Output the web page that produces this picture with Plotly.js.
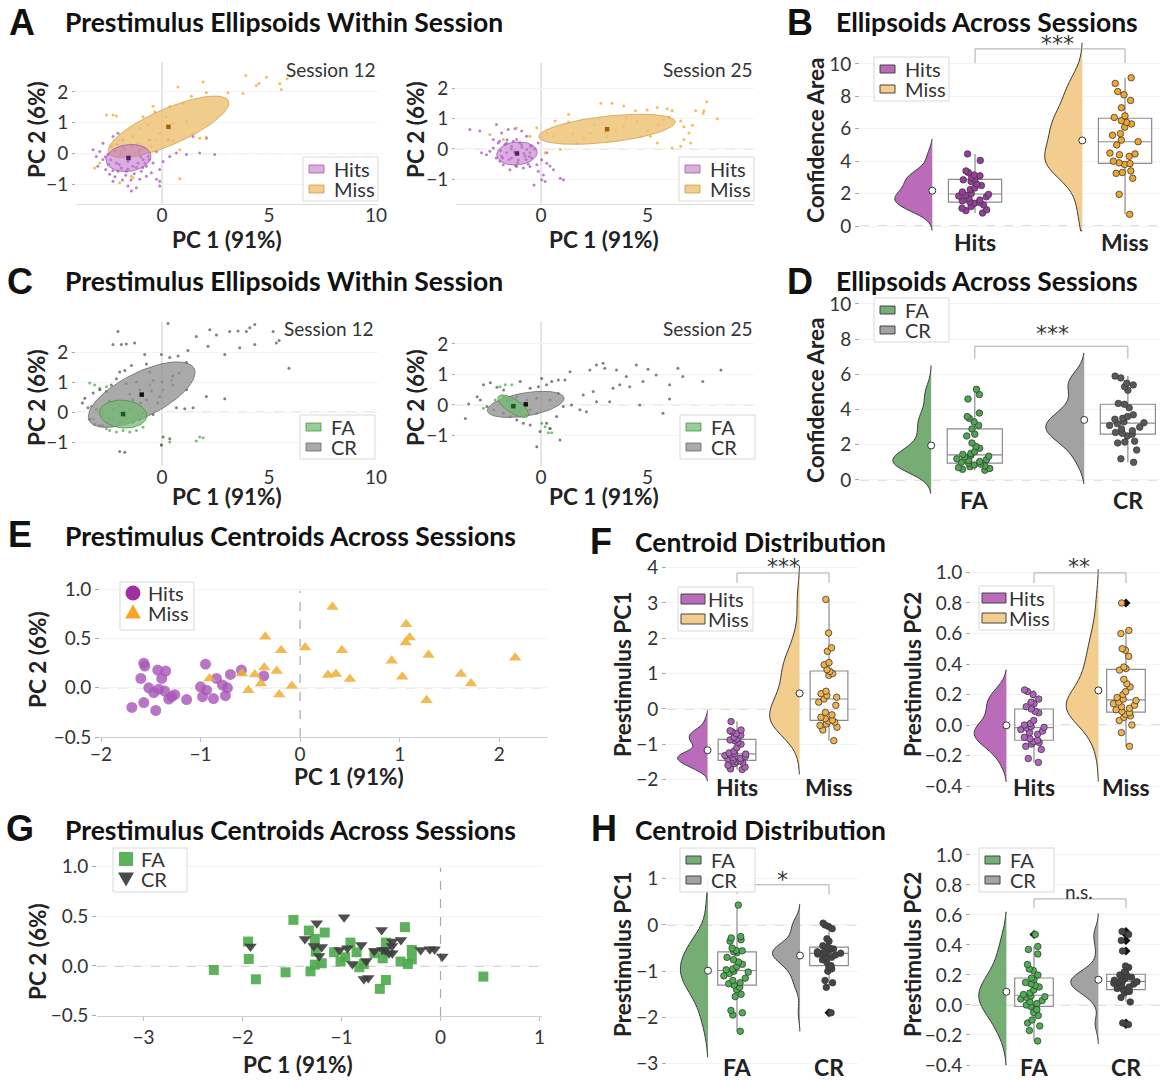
<!DOCTYPE html>
<html>
<head>
<meta charset="utf-8">
<script src="https://cdn.plot.ly/plotly-3.0.1.min.js"></script>
<style>html,body{margin:0;padding:0;background:#fff;}#chart{width:1160px;height:1080px;}</style>
</head>
<body>
<div id="chart"></div>
<script>
// ================= DATA =================
// Panel A (session 12 / 25): trial scatter in PC space
const a12HitsX = [-3.22,-3.07,-2.91,-2.76,-3.0,-2.63,-2.45,-2.29,-2.06,-1.82,-1.59,-1.43,-1.2,-1.04,-0.73,-0.5,-0.26,-0.11,-0.42,0.05,0.36,0.67,1.14,1.76,2.46,1.45,2.07,0.28,-0.26,-0.65,-2.37,-2.52,-2.13,-1.9,-1.67,-1.36,-1.12,-0.89,-2.21,-1.98,-1.75,-1.51,-1.28,-1.04,-1.59,-2.06,-0.97,-0.73,-2.76,-0.58,-0.11,-2.29,-0.11,-2.4,-2.2,-2.0,-1.8,-1.6,-1.4,-1.2,-1.0,-0.8,-2.3,-2.1,-1.9,-1.7,-1.5,-1.3,-1.1,-0.9,-2.5,-2.2,-1.85,-1.45,-1.15,-0.85,-2.65,-0.6];
const a12HitsY = [0.13,-0.09,0.07,-0.19,-0.41,-0.51,-0.67,0.56,0.66,0.45,-1.05,-1.21,-1.1,-0.83,-0.73,-0.62,-0.83,-0.89,-0.3,-0.25,-0.09,0.02,-0.03,0.02,-0.03,0.56,0.5,0.45,0.07,-0.09,0.24,-0.03,-0.3,-0.46,-0.57,-0.41,-0.3,-0.19,0.07,-0.03,0.13,-0.09,0.02,0.13,-0.25,-0.57,-0.57,-0.41,0.34,0.45,-1.05,-0.89,-0.51,-0.2,0.1,-0.35,0.2,-0.5,0.25,-0.45,-0.1,-0.3,-0.55,0.3,0.05,-0.7,0.0,-0.65,0.05,-0.45,-0.35,-0.75,-0.85,-0.85,0.3,0.2,-0.1,-0.2];
const a12MissX = [3.91,4.88,5.84,5.5,5.57,4.4,4.53,3.78,3.08,1.92,0.75,2.07,1.37,-0.42,-0.34,-2.6,-2.29,-2.13,-1.04,-1.36,-0.65,0.2,0.51,1.14,1.76,2.07,-0.11,-0.26,0.83,0.51,-1.36,-1.98,-3.15,-2.91,-1.43,-1.36,0.83,-1.98,-0.89,1.45,-0.5,0.36,0.98];
const a12MissY = [2.53,2.48,2.43,2.27,2.08,2.21,2.27,1.95,1.97,2.32,2.16,1.97,1.86,1.54,1.36,1.25,1.25,1.22,0.82,0.56,0.93,1.2,0.98,1.04,0.5,0.53,0.66,0.45,0.13,0.4,0.13,0.45,-0.46,-0.3,-0.73,-0.78,-0.81,-0.94,1.2,0.66,0.24,1.52,1.63];
const a25HitsX = [-3.34,-2.87,-2.79,-2.56,-2.4,-2.24,-2.09,-1.85,-1.54,-1.22,-0.91,-0.68,-2.01,-1.77,-1.46,-1.15,-0.83,-0.52,-0.2,0.03,0.27,0.42,0.58,0.11,-0.33,0.03,0.19,0.9,1.05,-0.13,-0.44,-1.62,-1.38,-1.15,-0.91,-0.68,-0.44,-1.62,-1.38,-1.07,-0.75,-0.52,-1.85,-1.93,-2.24,-0.13,0.27,-1.9,-1.7,-1.5,-1.3,-1.1,-0.9,-0.7,-0.5,-1.8,-1.6,-1.4,-1.2,-1.0,-0.8,-0.6,-1.95,-1.25,-0.55,-2.1,-0.3];
const a25HitsY = [0.64,0.59,-0.13,-0.19,-0.08,0.31,0.81,0.53,0.64,0.67,0.59,0.42,0.2,-0.52,-0.69,-0.58,-0.63,-0.58,-0.52,-0.36,-0.13,-0.56,-0.69,-0.86,-1.19,-1.02,-1.08,-0.97,-1.02,-0.74,-0.3,0.2,0.09,0.31,0.14,-0.02,0.09,-0.13,-0.3,-0.36,-0.24,-0.13,-0.24,-0.41,0.03,0.2,-0.47,-0.05,0.15,-0.35,0.25,-0.45,0.05,-0.35,0.1,-0.3,0.3,0.0,-0.55,0.2,-0.15,-0.5,0.25,-0.1,-0.25,-0.3,0.0];
const a25MissX = [2.81,3.33,3.88,4.43,4.98,5.45,5.92,6.15,6.55,6.7,6.94,7.1,7.25,7.61,7.77,8.27,7.64,6.7,7.02,6.55,6.15,5.45,5.13,1.29,1.29,0.66,0.27,0.58,0.9,1.68,2.31,3.88,3.09,4.66,5.76,-0.52,-2.4,-1.77,-1.15,-0.2,0.19,1.5,2.5,3.5,4.5,5.5,2.0,3.0,4.0,5.0,6.0];
const a25MissY = [1.51,1.51,1.42,1.26,1.29,1.37,1.33,1.26,0.92,0.73,0.53,0.78,1.26,1.18,1.56,1.0,1.26,0.31,0.2,0.09,0.03,0.2,0.42,1.14,0.89,0.92,0.53,0.42,-0.02,0.2,0.53,0.76,0.42,0.42,0.98,0.42,0.48,0.31,0.7,0.7,-0.13,0.5,0.8,0.6,0.9,0.8,0.35,0.55,1.0,0.6,1.05];
// Panel C
const c12FaX = [-3.38,-3.15,-2.91,-2.6,-3.3,-3.07,-3.22,-2.45,-2.13,-1.82,-1.51,-1.2,-0.89,-2.6,-2.76,-2.21,-1.98,-1.51,-1.12,-1.67,-2.29,-1.36,-0.89,-0.58,0.05,0.44,1.76,1.92,1.6,-0.03,0.36];
const c12FaY = [0.97,0.9,0.79,0.84,0.19,0.09,-0.24,-0.62,-0.67,-0.62,-0.67,-0.62,-0.51,-0.56,-0.45,0.09,-0.02,0.09,-0.08,-0.18,-0.24,-0.35,-0.02,0.9,0.74,1.06,-0.83,-0.86,-0.97,-1.1,-1.0];
const c12CrX = [0.28,-2.06,-2.29,-1.9,-1.67,-1.28,1.6,2.23,2.54,3.16,3.55,3.94,4.33,4.1,5.19,5.34,5.47,4.33,5.93,3.63,2.93,2.15,1.21,0.75,-0.03,0.36,1.14,-0.81,-0.73,-1.43,-1.74,-2.13,-2.37,-2.6,-2.91,-3.22,-3.61,-3.72,-3.46,-3.38,-3.15,-2.91,-1.98,-1.04,-0.42,0.67,1.06,1.45,2.93,2.07,1.14,0.51,-0.42,-1.04,-1.67,-1.36,-0.73,-0.11,-1.98,-1.74,0.05,0.36,-0.03,-2.29,-2.76,-2.45,-0.58,-1.98,-2.0,-1.5,-1.0,-0.5,0.0,0.5,-1.2,-2.5,-0.2,0.8];
const c12CrY = [2.95,2.68,2.25,2.25,2.27,2.3,2.52,2.74,2.57,2.68,2.7,2.68,2.92,2.81,2.68,2.3,2.38,2.25,1.46,2.14,1.92,2.19,2.05,1.87,1.92,1.82,1.65,1.92,1.6,1.55,1.38,1.11,0.9,0.68,0.74,0.63,0.46,0.3,0.14,-0.24,-0.4,-0.45,-0.35,-0.24,-0.08,0.14,0.11,0.14,0.44,0.52,0.74,0.9,1.06,0.74,0.95,0.41,0.41,0.52,-1.32,-1.34,-0.83,-0.89,-1.1,0.09,-0.08,0.36,1.33,1.33,0.2,0.6,0.3,0.7,1.0,1.2,1.0,-0.2,0.3,1.3];
const c25FaX = [-1.92,-1.68,-1.37,-2.7,-2.15,-1.6,-1.29,-0.98,-0.67,-0.2,0.03,0.19,0.34,0.5,0.42,-1.76,-1.45,-0.9];
const c25FaY = [0.6,0.66,0.66,-0.11,0.16,0.05,-0.05,-0.22,-0.33,-0.27,-0.6,-0.71,-0.91,-0.91,-0.77,0.27,0.16,-0.11];
const c25CrX = [2.6,2.91,2.99,2.29,1.36,1.12,0.81,0.5,0.26,0.03,3.54,4.0,4.47,5.02,5.4,6.42,6.65,8.44,7.59,6.03,4.78,4.16,3.69,3.38,2.45,1.98,2.6,3.22,4.63,6.03,5.72,1.82,1.43,2.13,1.04,0.73,0.26,-0.2,0.89,0.42,-0.05,-0.51,-0.83,-1.14,-1.45,-1.76,-2.23,-2.54,-2.85,-3.0,-3.4,-3.55,-2.7,-2.38,-2.07,-1.76,-0.98,-0.51,-0.12,-1.6,-1.14,-0.67,-0.2,-0.51,-1.45,0.42,0.81];
const c25CrY = [1.31,1.37,1.2,1.15,1.09,0.82,0.82,0.77,0.66,0.87,1.15,0.93,1.31,1.17,0.98,1.2,0.93,1.15,0.77,0.66,0.77,0.6,0.66,0.55,0.44,0.33,0.11,0.11,0.0,0.2,-0.27,-0.16,0.0,-0.22,-0.05,-0.38,-0.6,-1.37,-1.15,-0.77,-0.87,-0.66,-0.6,-0.49,-0.38,-0.27,-0.16,-0.05,0.16,0.27,0.03,-0.44,0.66,0.73,0.58,0.49,0.77,0.55,0.6,0.16,0.27,0.16,0.22,-0.16,-0.05,0.16,0.38];
// Confidence ellipses: [centerX, centerY, majorX, majorY, minorX, minorY]
const ellA12Hits = [-1.57,-0.14,1.05,0.06,0.0,0.435];
const ellA12Miss = [0.3,0.87,2.8,0.84,-0.33,0.54];
const ellA25Hits = [-1.13,-0.15,0.95,0.04,0.0,0.38];
const ellA25Miss = [3.1,0.65,3.2,0.25,-0.07,0.43];
const ellC12Fa = [-1.82,-0.07,1.1,-0.08,0.08,0.46];
const ellC12Cr = [-0.95,0.58,2.45,0.87,-0.46,0.66];
const ellC25Fa = [-1.3,-0.04,0.7,-0.32,0.18,0.19];
const ellC25Cr = [-0.72,0.02,1.8,0.2,-0.03,0.38];
// Panels B / D: confidence areas across sessions
const areaHits = [0.8,0.95,1.0,1.1,1.2,1.3,1.4,1.45,1.5,1.55,1.6,1.7,1.8,1.85,1.9,1.95,2.0,2.1,2.25,2.35,2.5,2.6,2.75,2.85,2.9,3.0,3.1,3.15,3.3,3.4,4.05,4.45];
const areaMiss = [0.72,1.95,2.95,3.25,3.3,3.4,3.8,3.85,3.9,4.0,4.3,4.4,4.45,4.5,5.0,5.2,5.3,5.6,5.7,6.1,6.3,6.4,6.5,6.7,6.8,7.3,7.75,8.1,8.3,8.8,9.15];
const areaFa = [0.55,0.6,0.65,0.7,0.75,0.8,0.85,0.9,0.95,1.0,1.05,1.1,1.15,1.2,1.3,1.35,1.4,1.45,1.5,1.6,1.8,1.9,2.1,2.5,2.6,2.9,3.1,3.3,3.5,3.6,3.8,4.6,4.85,5.15];
const areaCr = [1.0,1.2,1.7,2.1,2.15,2.2,2.5,2.6,2.65,2.7,2.8,2.9,3.0,3.1,3.2,3.25,3.3,3.45,3.5,3.6,3.7,4.1,4.3,4.35,5.1,5.3,5.4,5.5,5.8,5.9];
// Panels E / G: session centroids
const centHitsX = [-1.69,-1.57,-1.6,-1.57,-1.56,-1.52,-1.47,-1.45,-1.43,-1.42,-1.39,-1.36,-1.35,-1.32,-1.29,-1.26,-1.14,-1.0,-0.98,-0.95,-0.94,-0.87,-0.84,-0.78,-0.75,-0.73,-0.7,-0.59,-0.365];
const centHitsY = [-0.2,-0.15,0.095,0.25,0.22,0.0,-0.05,-0.23,0.18,-0.014,0.095,-0.034,0.17,-0.115,-0.09,-0.07,-0.12,0.01,-0.09,0.24,-0.024,-0.11,0.095,0.027,-0.08,0.0,0.136,0.18,0.12];
const centMissX = [0.325,1.066,1.1,1.06,-0.35,-0.19,0.05,0.42,0.92,1.29,2.16,-0.36,-0.235,-0.585,-0.455,-0.91,-0.394,-0.52,-0.21,-0.083,0.28,0.36,0.5,1.026,1.27,1.615,1.716];
const centMissY = [0.82,0.646,0.51,0.46,0.517,0.38,0.41,0.38,0.275,0.333,0.306,0.207,0.17,0.146,0.136,0.095,0.044,-0.024,-0.068,0.017,0.13,0.14,0.088,0.112,-0.126,0.14,0.044];
const centFaX = [-2.29,-1.944,-1.937,-1.865,-1.565,-1.486,-1.33,-1.27,-1.17,-1.26,-1.313,-1.27,-1.2,-1.075,-1.01,-0.963,-0.91,-0.848,-0.82,-0.775,-0.667,-0.613,-0.584,-0.552,-0.552,-0.404,-0.36,-0.33,-0.29,-0.29,0.433];
const centFaY = [-0.04,0.245,0.07,-0.134,-0.064,0.463,0.356,0.272,0.336,0.144,-0.054,0.013,0.027,0.138,0.044,0.087,0.235,0.138,-0.013,0.02,0.128,-0.23,0.077,0.235,-0.141,0.044,0.39,0.02,0.067,0.161,-0.107];
const centCrX = [-1.37,-1.25,-1.28,-1.226,-1.2,-1.92,-0.974,-1.02,-0.94,-0.89,-0.8,-0.775,-0.73,-0.75,-0.67,-0.595,-0.588,-0.56,-0.52,-0.487,-0.487,-0.49,-0.4,-0.2,-0.108,-0.06,0.018];
const centCrY = [0.272,0.43,0.2,0.1,0.19,0.195,0.49,0.16,0.178,0.02,0.21,-0.13,-0.12,0.05,0.15,0.362,0.16,0.16,0.128,0.245,0.128,0.2,0.26,0.16,0.168,0.168,0.094];
// Panels F / H: centroid distributions
const pc1Hits = [-0.36,-0.6,-0.62,-0.65,-0.7,-0.75,-0.8,-0.85,-0.88,-0.9,-0.95,-1.0,-1.1,-1.2,-1.25,-1.27,-1.28,-1.3,-1.32,-1.35,-1.38,-1.4,-1.42,-1.45,-1.47,-1.5,-1.52,-1.55,-1.6,-1.65,-1.7,-1.72];
const pc1Miss = [3.1,2.15,1.73,1.63,1.31,1.25,1.11,1.06,1.0,0.95,0.5,0.43,0.38,0.33,0.28,0.19,0.1,-0.1,-0.17,-0.24,-0.28,-0.32,-0.35,-0.38,-0.43,-0.47,-0.52,-0.6,-0.9];
const pc2Hits = [0.23,0.22,0.2,0.17,0.15,0.14,0.12,0.105,0.09,0.08,0.03,0.01,0.0,-0.01,-0.015,-0.02,-0.03,-0.04,-0.05,-0.06,-0.08,-0.09,-0.1,-0.11,-0.115,-0.125,-0.14,-0.16,-0.22,-0.245];
const pc2Miss = [-0.14,-0.05,0.0,0.03,0.05,0.06,0.07,0.08,0.09,0.1,0.11,0.12,0.13,0.14,0.15,0.16,0.17,0.18,0.2,0.22,0.25,0.27,0.3,0.36,0.37,0.38,0.45,0.49,0.5,0.6,0.62,0.8];
const pc1Fa = [0.43,-0.25,-0.28,-0.32,-0.35,-0.5,-0.55,-0.56,-0.58,-0.6,-0.7,-0.75,-0.8,-0.85,-0.9,-0.95,-0.97,-1.0,-1.02,-1.05,-1.1,-1.15,-1.2,-1.25,-1.27,-1.3,-1.35,-1.4,-1.5,-1.55,-1.85,-1.9,-1.95,-2.3];
const pc1Cr = [0.04,0.0,-0.03,-0.08,-0.3,-0.35,-0.45,-0.48,-0.5,-0.52,-0.55,-0.57,-0.58,-0.6,-0.61,-0.62,-0.63,-0.65,-0.68,-0.7,-0.75,-0.8,-0.88,-0.9,-0.95,-1.0,-1.2,-1.25,-1.35,-1.9];
const pc2Fa = [0.47,0.39,0.37,0.34,0.27,0.24,0.23,0.2,0.18,0.17,0.15,0.14,0.13,0.12,0.1,0.08,0.07,0.06,0.055,0.05,0.04,0.03,0.02,0.01,0.0,-0.01,-0.03,-0.05,-0.07,-0.1,-0.12,-0.14,-0.17,-0.24];
const pc2Cr = [0.49,0.47,0.43,0.36,0.26,0.25,0.22,0.21,0.2,0.195,0.19,0.185,0.18,0.17,0.165,0.16,0.155,0.15,0.145,0.14,0.13,0.12,0.11,0.105,0.1,0.1,0.09,0.08,0.05,0.02,-0.12,-0.13];
// KDE settings [bandwidth, spanLow, spanHigh]
const kdeAreaHits = [0.45,-0.25,5.35], kdeAreaMiss = [0.9,-0.3,11.3];
const kdeAreaFa = [0.55,-0.75,6.5], kdeAreaCr = [0.6,-0.2,7.2];
const kdePc1Hits = [0.13,-2.05,-0.05], kdePc1Miss = [0.42,-1.85,4.05];
const kdePc2Hits = [0.06,-0.37,0.36], kdePc2Miss = [0.1,-0.37,1.02];
const kdePc1Fa = [0.33,-2.86,1.0], kdePc1Cr = [0.18,-2.3,0.45];
const kdePc2Fa = [0.09,-0.4,0.62], kdePc2Cr = [0.05,-0.26,0.61];
const catsHM = ['Hits','Miss'], catsFC = ['FA','CR'];
const sigLabels = ['***','***','***','**','*','n.s.'];

// ================= LAYOUT HELPERS =================
const W = 1160, H = 1080;
const FONT = 'Lato, "Open Sans", sans-serif';
const TICK = 19;
const xd = (a, b) => [a / W, b / W];
const yd = (top, bottom) => [1 - bottom / H, 1 - top / H];
const ax = (p, n) => n === 1 ? p : p + n;
const traces = [];
const layout = {
  width: W, height: H, margin: {l: 0, r: 0, t: 0, b: 0},
  paper_bgcolor: '#fff', plot_bgcolor: '#fff',
  font: {family: FONT, color: '#333', size: TICK},
  hovermode: false, showlegend: false, annotations: [], shapes: []
};
const px = x => x / W, py = y => 1 - y / H;
function setAxes(n, dx, dy, xr, yr, xo, yo) {
  layout[n === 1 ? 'xaxis' : 'xaxis' + n] = Object.assign({domain: dx, range: xr, type: 'linear', anchor: ax('y', n), showgrid: false, zeroline: false, showline: false, ticks: '', tickfont: {size: TICK, color: '#333'}, fixedrange: true}, xo || {});
  layout[n === 1 ? 'yaxis' : 'yaxis' + n] = Object.assign({domain: dy, range: yr, type: 'linear', anchor: ax('x', n), showgrid: true, gridcolor: '#f3f3f3', zeroline: false, showline: false, ticks: 'outside', ticklen: 4, tickcolor: '#aaa', tickfont: {size: TICK, color: '#333'}, fixedrange: true}, yo || {});
}
function txt(text, x, y, o) {
  layout.annotations.push(Object.assign({xref: 'paper', yref: 'paper', x: px(x), y: py(y), text: text, showarrow: false, xanchor: 'center', yanchor: 'middle', font: {family: FONT, size: TICK, color: '#333'}}, o || {}));
}
function hline(n, y, color, dash) {
  layout.shapes.push({type: 'line', xref: ax('x', n) + ' domain', x0: 0, x1: 1, yref: ax('y', n), y0: y, y1: y, line: {color: color, width: 1.2, dash: dash}, layer: 'below'});
}
function vline(n, x, color, dash, top) {
  layout.shapes.push({type: 'line', yref: ax('y', n) + ' domain', y0: 0, y1: top, xref: ax('x', n), x0: x, x1: x, line: {color: color, width: 1.2, dash: dash}, layer: 'below'});
}
// legend drawn as a box with patches/markers and text
function legendFrame(L, T, w, h) {
  layout.shapes.push({type: 'rect', xref: 'paper', yref: 'paper', x0: px(L), x1: px(L + w), y0: py(T + h), y1: py(T), fillcolor: 'rgba(255,255,255,0.92)', line: {color: '#d9d9d9', width: 1}, layer: 'above'});
}
function patchLegend(L, T, items, style) {
  const big = style === 'big';
  legendFrame(L, T, 75, 44);
  items.forEach((it, k) => {
    const yc = T + 12 + k * 20;
    const x0 = big ? L + 3 : L + 6, x1 = big ? L + 27 : L + 21, hh = big ? 5 : 4;
    layout.shapes.push({type: 'rect', xref: 'paper', yref: 'paper', x0: px(x0), x1: px(x1), y0: py(yc + hh), y1: py(yc - hh), fillcolor: it.fill, line: {color: it.edge, width: 1}, layer: 'above'});
    txt(it.name, big ? L + 28 : L + 29, yc, {xanchor: 'left', font: {family: FONT, size: 20, color: '#333'}});
  });
}
function markerLegend(L, T, h, items) {
  legendFrame(L, T, 74, h);
  items.forEach((it, k) => {
    const yc = T + 11 + k * 19.5;
    const base = {xref: 'paper', yref: 'paper', xsizemode: 'pixel', ysizemode: 'pixel', xanchor: px(L + 13), yanchor: py(yc), fillcolor: it.color, line: {width: 0}, layer: 'above'};
    if (it.symbol === 'circle') layout.shapes.push(Object.assign({type: 'circle', x0: -7.5, x1: 7.5, y0: -7.5, y1: 7.5}, base));
    else if (it.symbol === 'square') layout.shapes.push(Object.assign({type: 'rect', x0: -7, x1: 7, y0: -7, y1: 7}, base));
    else if (it.symbol === 'up') layout.shapes.push(Object.assign({type: 'path', path: 'M -8,-6 L 8,-6 L 0,8 Z'}, base));
    else layout.shapes.push(Object.assign({type: 'path', path: 'M -8,6 L 8,6 L 0,-8 Z'}, base));
    txt(it.name, L + 26, yc, {xanchor: 'left', font: {family: FONT, size: 20, color: '#333'}});
  });
}
function ellipsePts(e) {
  const xs = [], ys = [];
  for (let k = 0; k <= 90; k++) {
    const t = 2 * Math.PI * k / 90;
    xs.push(e[0] + e[2] * Math.cos(t) + e[4] * Math.sin(t));
    ys.push(e[1] + e[3] * Math.cos(t) + e[5] * Math.sin(t));
  }
  return {xs, ys};
}
function cloudPanel(n, groups) {
  const xa = ax('x', n), ya = ax('y', n);
  groups.forEach(g => traces.push({type: 'scatter', mode: 'markers', x: g.x, y: g.y, xaxis: xa, yaxis: ya, marker: {size: 3, color: g.dot}, showlegend: false}));
  groups.slice().reverse().forEach(g => {
    const p = ellipsePts(g.ell);
    traces.push({type: 'scatter', mode: 'lines', x: p.xs, y: p.ys, fill: 'toself', fillcolor: g.fill, line: {color: g.edge, width: 1}, name: g.name, xaxis: xa, yaxis: ya});
    traces.push({type: 'scatter', mode: 'markers', x: [g.ell[0]], y: [g.ell[1]], marker: {symbol: 'square', size: 4.5, color: g.center}, showlegend: false, xaxis: xa, yaxis: ya});
  });
}
const mean = a => a.reduce((s, v) => s + v, 0) / a.length;
function rainPanel(n, cats, cfg) {
  const xa = ax('x', n), ya = ax('y', n);
  cats.forEach((c, i) => {
    traces.push({type: 'violin', x0: i + cfg.off, y: c.vals, side: 'negative', width: cfg.vw, scalemode: 'width', bandwidth: c.kde[0], spanmode: 'manual', span: [c.kde[1], c.kde[2]], fillcolor: c.vfill, line: {color: '#3c3c3c', width: 1}, points: false, box: {visible: false}, meanline: {visible: false}, name: c.name, xaxis: xa, yaxis: ya, hoverinfo: 'skip'});
  });
  cats.forEach((c, i) => {
    traces.push({type: 'box', x0: i, y: c.vals, width: cfg.bw, fillcolor: 'rgba(255,255,255,0)', line: {color: '#8c8c8c', width: 1.2}, whiskerwidth: 0, boxpoints: 'outliers', marker: {symbol: 'diamond', color: '#111', size: 7}, showlegend: false, xaxis: xa, yaxis: ya});
    traces.push({type: 'box', x0: i, y: c.vals, width: cfg.bw, fillcolor: 'rgba(0,0,0,0)', line: {color: 'rgba(0,0,0,0)', width: 0}, whiskerwidth: 0, boxpoints: 'all', jitter: cfg.jit, pointpos: 0, marker: {color: c.dot, size: 6.5, line: {color: '#3a3a3a', width: 0.8}}, showlegend: false, xaxis: xa, yaxis: ya});
    traces.push({type: 'scatter', mode: 'markers', x: [i + cfg.off], y: [mean(c.vals)], marker: {color: '#fff', size: 7, line: {color: '#333', width: 1}}, showlegend: false, xaxis: xa, yaxis: ya});
  });
  // category labels under the x axis
  cats.forEach((c, i) => layout.annotations.push({xref: ax('x', n), yref: 'paper', x: i, y: py(cfg.labelY), text: '<b>' + c.name + '</b>', showarrow: false, yanchor: 'middle', font: {family: FONT, size: 23, color: '#222'}}));
}
function bracket(n, yTop, yLow, label, lx, ly) {
  layout.shapes.push({type: 'path', xref: ax('x', n), yref: ax('y', n), path: `M 0,${yLow} L 0,${yTop} L 1,${yTop} L 1,${yLow}`, line: {color: '#aaa', width: 1}});
  const stars = label.indexOf('*') >= 0;
  txt(label, lx, ly, {font: {family: stars ? '"DejaVu Sans", sans-serif' : FONT, size: stars ? 22 : 19, color: '#333'}});
}

// colours
const C = {
  hitsDot: 'rgba(172,82,188,0.75)', missDot: 'rgba(240,172,56,0.8)',
  faDot: 'rgba(80,168,80,0.75)', crDot: 'rgba(85,85,85,0.75)',
  hitsVio: '#BA6BB9', missVio: '#F2CD8D', faVio: '#76AD75', crVio: '#A2A2A2',
  hitsEll: 'rgba(192,118,202,0.58)', hitsEdge: 'rgba(155,80,168,0.75)',
  missEll: 'rgba(238,193,112,0.8)', missEdge: 'rgba(205,150,60,0.7)',
  faEll: 'rgba(112,186,112,0.72)', faEdge: 'rgba(70,140,70,0.75)',
  crEll: 'rgba(146,146,146,0.78)', crEdge: 'rgba(100,100,100,0.75)'
};

// ================= PANELS A & C =================
const scatX = {tickvals: [0, 5, 10], showline: true, linecolor: '#dedede', ticklabelstandoff: -6};
const scatY = {tickvals: [-1, 0, 1, 2], ticklen: 3};
setAxes(1, xd(76, 378), yd(62, 204), [-4.02, 10.09], [-1.63, 2.97], scatX, scatY);
setAxes(2, xd(456, 754), yd(63, 204), [-3.99, 9.99], [-1.82, 2.84], scatX, scatY);
setAxes(4, xd(76, 378), yd(322, 466), [-4.02, 10.09], [-1.8, 3.0], {tickvals: [0, 5, 10], ticklabelstandoff: -2}, scatY);
setAxes(5, xd(456, 754), yd(322, 466), [-3.99, 9.99], [-2.0, 2.72], {tickvals: [0, 5, 10], ticklabelstandoff: -2}, scatY);
[1, 2, 4, 5].forEach(n => { vline(n, 0, '#d4d4d4', 'solid', 1); hline(n, 0, '#d6d6d6', 'dash'); });
const hitsG = (x, y, e) => ({x, y, ell: e, name: 'Hits', dot: C.hitsDot, fill: C.hitsEll, edge: C.hitsEdge, center: '#5e1a6e'});
const missG = (x, y, e) => ({x, y, ell: e, name: 'Miss', dot: C.missDot, fill: C.missEll, edge: C.missEdge, center: '#9a6608'});
const faG = (x, y, e) => ({x, y, ell: e, name: 'FA', dot: C.faDot, fill: C.faEll, edge: C.faEdge, center: '#165e16'});
const crG = (x, y, e) => ({x, y, ell: e, name: 'CR', dot: C.crDot, fill: C.crEll, edge: C.crEdge, center: '#111'});
cloudPanel(1, [hitsG(a12HitsX, a12HitsY, ellA12Hits), missG(a12MissX, a12MissY, ellA12Miss)]);
cloudPanel(2, [hitsG(a25HitsX, a25HitsY, ellA25Hits), missG(a25MissX, a25MissY, ellA25Miss)]);
cloudPanel(4, [faG(c12FaX, c12FaY, ellC12Fa), crG(c12CrX, c12CrY, ellC12Cr)]);
cloudPanel(5, [faG(c25FaX, c25FaY, ellC25Fa), crG(c25CrX, c25CrY, ellC25Cr)]);
const hmPatch = [{name: catsHM[0], fill: C.hitsEll, edge: C.hitsEdge}, {name: catsHM[1], fill: C.missEll, edge: C.missEdge}];
const fcPatch = [{name: catsFC[0], fill: C.faEll, edge: C.faEdge}, {name: catsFC[1], fill: C.crEll, edge: C.crEdge}];
patchLegend(303, 157, hmPatch); patchLegend(679, 157, hmPatch);
patchLegend(300, 415, fcPatch); patchLegend(680, 415, fcPatch);

// ================= PANELS B & D =================
const rainX = {showticklabels: false, ticks: ''};
setAxes(3, xd(860, 1160), yd(40, 232), [-0.767, 1.233], [-0.37, 11.48], rainX, {tickvals: [0, 2, 4, 6, 8, 10]});
setAxes(6, xd(860, 1160), yd(298, 494), [-0.75, 1.21], [-0.8, 10.34], rainX, {tickvals: [0, 2, 4, 6, 8, 10]});
hline(3, 0, '#c4c4c4', 'dash'); hline(6, 0, '#c4c4c4', 'dash');
rainPanel(3, [
  {name: catsHM[0], vals: areaHits, kde: kdeAreaHits, vfill: C.hitsVio, dot: '#9b3b9e'},
  {name: catsHM[1], vals: areaMiss, kde: kdeAreaMiss, vfill: C.missVio, dot: '#f0a52c'}
], {off: -0.285, vw: 0.5, bw: 0.355, jit: 0.7, labelY: 242});
rainPanel(6, [
  {name: catsFC[0], vals: areaFa, kde: kdeAreaFa, vfill: C.faVio, dot: '#4da64d'},
  {name: catsFC[1], vals: areaCr, kde: kdeAreaCr, vfill: C.crVio, dot: '#5a5a5a'}
], {off: -0.285, vw: 0.5, bw: 0.36, jit: 0.7, labelY: 500});
bracket(3, 10.93, 10.06, sigLabels[0], 1057, 43);
bracket(6, 7.6, 6.9, sigLabels[1], 1052, 333);
const hmVio = [{name: catsHM[0], fill: C.hitsVio, edge: '#444'}, {name: catsHM[1], fill: C.missVio, edge: '#444'}];
const fcVio = [{name: catsFC[0], fill: C.faVio, edge: '#444'}, {name: catsFC[1], fill: C.crVio, edge: '#444'}];
patchLegend(874, 57, hmVio); patchLegend(874, 298, fcVio);

// ================= PANELS E & G =================
setAxes(7, xd(100, 548), yd(583, 737), [-2.01, 2.49], [-0.5, 1.064], {dtick: 1, showline: true, linecolor: '#cfcfcf', ticks: 'outside', ticklen: 4, tickcolor: '#bbb', ticklabelstandoff: -4}, {dtick: 0.5, tickformat: '.1f'});
setAxes(10, xd(97, 542), yd(860, 1016), [-3.47, 1.025], [-0.503, 1.065], {dtick: 1, showline: true, linecolor: '#cfcfcf', ticks: 'outside', ticklen: 4, tickcolor: '#bbb'}, {dtick: 0.5, tickformat: '.1f'});
hline(7, 0, '#aaa', 'dash'); vline(7, 0, '#aaa', 'dash', 0.95);
hline(10, 0, '#aaa', 'dash'); vline(10, 0, '#aaa', 'dash', 0.95);
const eHits = 'rgba(170,88,186,0.82)', eMiss = 'rgba(242,174,52,0.85)', gFa = 'rgba(76,170,76,0.9)', gCr = 'rgba(60,60,60,0.9)';
traces.push({type: 'scatter', mode: 'markers', x: centHitsX, y: centHitsY, name: 'Hits', xaxis: 'x7', yaxis: 'y7', marker: {symbol: 'circle', size: 11, color: eHits}});
traces.push({type: 'scatter', mode: 'markers', x: centMissX, y: centMissY, name: 'Miss', xaxis: 'x7', yaxis: 'y7', marker: {symbol: 'triangle-up', size: 11, color: eMiss}});
traces.push({type: 'scatter', mode: 'markers', x: centFaX, y: centFaY, name: 'FA', xaxis: 'x10', yaxis: 'y10', marker: {symbol: 'square', size: 10, color: gFa}});
traces.push({type: 'scatter', mode: 'markers', x: centCrX, y: centCrY, name: 'CR', xaxis: 'x10', yaxis: 'y10', marker: {symbol: 'triangle-down', size: 11, color: gCr}});
markerLegend(120, 582, 48, [{name: catsHM[0], symbol: 'circle', color: '#a0309f'}, {name: catsHM[1], symbol: 'up', color: '#f5a623'}]);
markerLegend(113, 848, 44, [{name: catsFC[0], symbol: 'square', color: '#5cb35c'}, {name: catsFC[1], symbol: 'down', color: '#4a4a4a'}]);

// ================= PANELS F & H =================
setAxes(8, xd(667, 858), yd(562, 783), [-0.761, 1.315], [-2.1, 4.16], rainX, {dtick: 1});
setAxes(9, xd(971, 1160), yd(565, 790), [-0.685, 1.37], [-0.426, 1.049], rainX, {dtick: 0.2, tickformat: '.1f'});
setAxes(11, xd(667, 858), yd(850, 1068), [-0.761, 1.315], [-3.095, 1.623], rainX, {dtick: 1});
setAxes(12, xd(971, 1160), yd(850, 1068), [-0.685, 1.37], [-0.42, 1.033], rainX, {dtick: 0.2, tickformat: '.1f'});
[8, 9, 11, 12].forEach(n => hline(n, 0, '#c4c4c4', 'dash'));
rainPanel(8, [
  {name: catsHM[0], vals: pc1Hits, kde: kdePc1Hits, vfill: C.hitsVio, dot: '#b163c0'},
  {name: catsHM[1], vals: pc1Miss, kde: kdePc1Miss, vfill: C.missVio, dot: '#f0b24a'}
], {off: -0.32, vw: 0.65, bw: 0.41, jit: 0.7, labelY: 787});
rainPanel(9, [
  {name: catsHM[0], vals: pc2Hits, kde: kdePc2Hits, vfill: C.hitsVio, dot: '#b163c0'},
  {name: catsHM[1], vals: pc2Miss, kde: kdePc2Miss, vfill: C.missVio, dot: '#f0b24a'}
], {off: -0.3, vw: 0.7, bw: 0.42, jit: 0.7, labelY: 787});
rainPanel(11, [
  {name: catsFC[0], vals: pc1Fa, kde: kdePc1Fa, vfill: C.faVio, dot: '#4caf50'},
  {name: catsFC[1], vals: pc1Cr, kde: kdePc1Cr, vfill: C.crVio, dot: '#454545'}
], {off: -0.315, vw: 0.6, bw: 0.42, jit: 0.7, labelY: 1067});
rainPanel(12, [
  {name: catsFC[0], vals: pc2Fa, kde: kdePc2Fa, vfill: C.faVio, dot: '#4caf50'},
  {name: catsFC[1], vals: pc2Cr, kde: kdePc2Cr, vfill: C.crVio, dot: '#454545'}
], {off: -0.3, vw: 0.6, bw: 0.42, jit: 0.7, labelY: 1067});
bracket(8, 3.85, 3.57, sigLabels[2], 783, 566);
bracket(9, 0.997, 0.93, sigLabels[3], 1079, 566);
bracket(11, 0.87, 0.67, sigLabels[4], 782, 879);
bracket(12, 0.707, 0.647, sigLabels[5], 1079, 891);
patchLegend(678, 587, hmVio, 'big'); patchLegend(979, 586, hmVio, 'big');
patchLegend(680, 848, fcVio); patchLegend(979, 848, fcVio);

// ================= TITLES & LABELS =================
const letter = (t, x, y) => txt('<b>' + t + '</b>', x, y, {font: {family: '"Liberation Sans", Arial, sans-serif', size: 36, color: '#111'}});
const title = (t, x, y) => txt('<b>' + t + '</b>', x, y, {xanchor: 'left', font: {family: FONT, size: 26.5, color: '#111'}});
letter('A', 22, 22); title('Prestimulus Ellipsoids Within Session', 63, 22);
letter('B', 800, 22); title('Ellipsoids Across Sessions', 834, 22);
letter('C', 20, 281); title('Prestimulus Ellipsoids Within Session', 63, 281);
letter('D', 800, 281); title('Ellipsoids Across Sessions', 834, 281);
letter('E', 20, 534); title('Prestimulus Centroids Across Sessions', 63, 536);
letter('F', 601, 541); title('Centroid Distribution', 633, 542);
letter('G', 20, 828); title('Prestimulus Centroids Across Sessions', 63, 830);
letter('H', 604, 828); title('Centroid Distribution', 633, 830);
const xt = (t, x, y) => txt('<b>' + t + '</b>', x, y, {font: {family: FONT, size: 22.5, color: '#222'}});
const yt = (t, x, y) => txt('<b>' + t + '</b>', x, y, {textangle: -90, font: {family: FONT, size: 22.5, color: '#222'}});
xt('PC 1 (91%)', 227, 239); yt('PC 2 (6%)', 37, 130);
xt('PC 1 (91%)', 604, 239); yt('PC 2 (6%)', 416, 130);
yt('Confidence Area', 815, 140);
xt('PC 1 (91%)', 227, 496); yt('PC 2 (6%)', 37, 398);
xt('PC 1 (91%)', 604, 496); yt('PC 2 (6%)', 416, 398);
yt('Confidence Area', 815, 400);
xt('PC 1 (91%)', 349, 776); yt('PC 2 (6%)', 37, 660);
yt('Prestimulus PC1', 622, 675); yt('Prestimulus PC2', 912, 675);
xt('PC 1 (91%)', 298, 1064); yt('PC 2 (6%)', 37, 952);
yt('Prestimulus PC1', 622, 955); yt('Prestimulus PC2', 912, 955);
const sess = (t, x, y) => txt(t, x, y, {xanchor: 'right', font: {family: FONT, size: 19, color: '#333'}});
sess('Session 12', 378, 69); sess('Session 25', 755, 69);
sess('Session 12', 376, 329); sess('Session 25', 755, 329);

Plotly.newPlot('chart', traces, layout, {staticPlot: true, displayModeBar: false});
</script>
</body>
</html>
